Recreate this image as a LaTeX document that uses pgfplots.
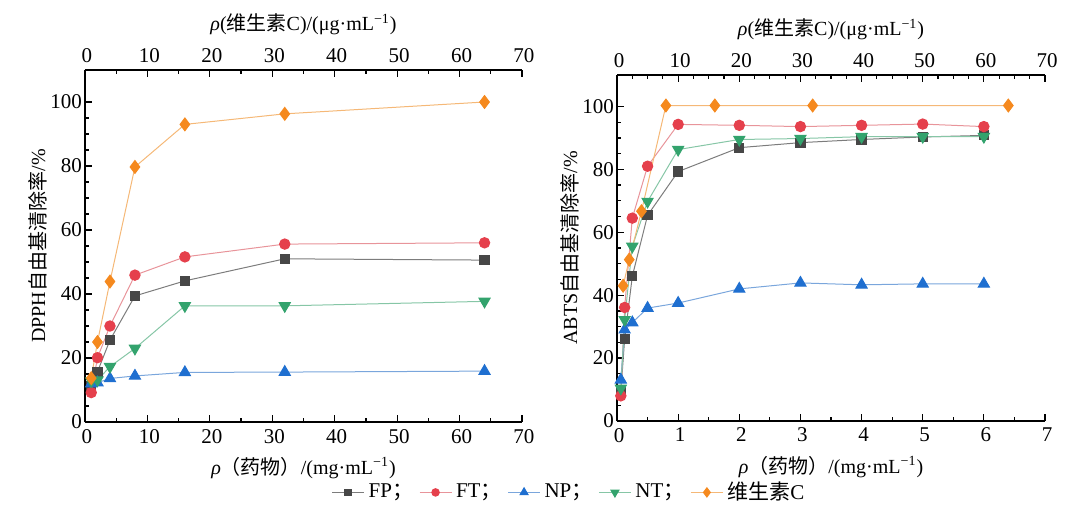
\documentclass[border=0pt]{standalone}
\usepackage{fontspec}
\setmainfont{Liberation Serif}
\newfontfamily\cjk{Noto Sans CJK SC}
\usepackage{pgfplots}
\pgfplotsset{compat=1.18}

\definecolor{fpm}{HTML}{474747}\definecolor{fpl}{HTML}{7C7C7C}
\definecolor{ftm}{HTML}{E5404C}\definecolor{ftl}{HTML}{E8949A}
\definecolor{npm}{HTML}{1F6FD0}\definecolor{npl}{HTML}{7AA6DC}
\definecolor{ntm}{HTML}{33A36D}\definecolor{ntl}{HTML}{86C6A6}
\definecolor{vcm}{HTML}{F5891E}\definecolor{vcl}{HTML}{F5B877}

\pgfplotsset{
  base/.style={scale only axis, anchor=south west, tick align=inside,
    major tick length=3.5pt, minor tick length=1.8pt,
    /pgf/number format/assume math mode=true,
    every tick/.style={black, line width=0.6pt},
    axis line style={line width=0.7pt},
    ticklabel style={font=\fontsize{10.5}{12}\selectfont},
    yticklabel style={xshift=2pt},
    xticklabel style={xshift=1pt},
    label style={font=\fontsize{10}{12}\selectfont},
    ylabel style={yshift=-5pt},
    ymin=0, ymax=110, clip=false},
  sFP/.style={color=fpl, line width=0.5pt, mark=square*, mark size=2.3pt, mark options={fill=fpm, draw=fpm}},
  sFT/.style={color=ftl, line width=0.5pt, mark=*, mark size=2.6pt, mark options={fill=ftm, draw=ftm}},
  sNP/.style={color=npl, line width=0.5pt, mark=triangle*, mark size=3.2pt, mark options={fill=npm, draw=npm}},
  sNT/.style={color=ntl, line width=0.5pt, mark=triangle*, mark size=3.2pt, mark options={fill=ntm, draw=ntm, rotate=180}},
  sVC/.style={color=vcl, line width=0.5pt, mark=diamond*, mark size=3.2pt, mark options={fill=vcm, draw=vcm}},
}

\begin{document}
\begin{tikzpicture}
\useasboundingbox (0,0) rectangle (540pt,255pt);

% ---------- left: DPPH ----------
\begin{axis}[base, at={(42.5pt,44pt)}, width=218.5pt, height=176pt,
  xmin=0, xmax=70, axis x line*=bottom, axis y line*=left,
  xtick={0,10,...,70}, minor x tick num=1,
  ytick={0,20,...,100}, minor y tick num=3,
  xlabel={\textit{ρ}{\cjk （药物）}/(mg·mL\textsuperscript{−1})},
  ylabel={DPPH{\cjk 自由基清除率}/\%},
  legend columns=5,
  legend style={at={(1.11,-0.2)}, anchor=center, draw=none, fill=none,
    font=\fontsize{10.5}{12}\selectfont,
    /tikz/every odd column/.append style={column sep=0pt},
    /tikz/every even column/.append style={column sep=1pt}},
  legend image code/.code={\draw[mark repeat=2,mark phase=2, every mark/.append style={scale=0.72}] plot coordinates {(0pt,0pt)(8pt,0pt)(16pt,0pt)};},
]
\addplot[sFP] coordinates {(1,11.3)(2,15.7)(4,25.6)(8,39.4)(16,44.1)(32,51.0)(64,50.6)};
\addlegendentry{FP{\cjk ；}}
\addplot[sFT] coordinates {(1,9.2)(2,20.1)(4,30.0)(8,45.9)(16,51.6)(32,55.6)(64,56.0)};
\addlegendentry{FT{\cjk ；}}
\addplot[sNP] coordinates {(1,12.0)(2,12.3)(4,13.6)(8,14.4)(16,15.5)(32,15.6)(64,15.9)};
\addlegendentry{NP{\cjk ；}}
\addplot[sNT] coordinates {(1,12.8)(2,13.1)(4,17.3)(8,23.0)(16,36.3)(32,36.3)(64,37.7)};
\addlegendentry{NT{\cjk ；}}
\addplot[sVC] coordinates {(1,13.7)(2,25.0)(4,43.9)(8,79.7)(16,93.0)(32,96.3)(64,100.0)};
\addlegendentry{{\cjk 维生素}C}
\end{axis}
\begin{axis}[base, at={(42.5pt,44pt)}, width=218.5pt, height=176pt,
  xmin=0, xmax=70, axis x line*=top, axis y line=none,
  xtick={0,10,...,70}, minor x tick num=1,
  xticklabel style={xshift=0pt},
  xlabel={\textit{ρ}({\cjk 维生素}C)/(μg·mL\textsuperscript{−1})}]
\addplot[draw=none] coordinates {(0,0)};
\end{axis}

% ---------- right: ABTS ----------
\begin{axis}[base, at={(308.5pt,44.5pt)}, width=214pt, height=173pt,
  xmin=0, xmax=7, axis x line*=bottom, axis y line*=left,
  xtick={0,1,...,7}, minor x tick num=1,
  ytick={0,20,...,100}, minor y tick num=3,
  xlabel={\textit{ρ}{\cjk （药物）}/(mg·mL\textsuperscript{−1})},
  ylabel={ABTS{\cjk 自由基清除率}/\%},
]
\addplot[sFP] coordinates {(0.0625,9.3)(0.125,26.1)(0.25,46.0)(0.5,65.4)(1,79.3)(2,86.9)(3,88.5)(4,89.5)(5,90.3)(6,90.8)};
\addplot[sFT] coordinates {(0.0625,8.0)(0.125,36.1)(0.25,64.5)(0.5,81.0)(1,94.3)(2,94.0)(3,93.6)(4,94.0)(5,94.4)(6,93.6)};
\addplot[sNP] coordinates {(0.0625,13.1)(0.125,29.0)(0.25,31.3)(0.5,35.9)(1,37.5)(2,42.0)(3,43.9)(4,43.3)(5,43.6)(6,43.6)};
\addplot[sNT] coordinates {(0.0625,10.4)(0.125,32.2)(0.25,55.5)(0.5,69.8)(1,86.3)(2,89.5)(3,89.8)(4,90.4)(5,90.4)(6,90.4)};
\addplot[sVC] coordinates {(0.1,43.0)(0.2,51.3)(0.4,66.7)(0.8,100.3)(1.6,100.3)(3.2,100.3)(6.4,100.3)};
\end{axis}
\begin{axis}[base, at={(308.5pt,44.5pt)}, width=214pt, height=173pt,
  xmin=0, xmax=70, axis x line*=top, axis y line=none,
  xtick={0,10,...,70}, minor x tick num=3,
  xticklabel style={xshift=0pt},
  xlabel={\textit{ρ}({\cjk 维生素}C)/(μg·mL\textsuperscript{−1})}]
\addplot[draw=none] coordinates {(0,0)};
\end{axis}
\end{tikzpicture}
\end{document}
